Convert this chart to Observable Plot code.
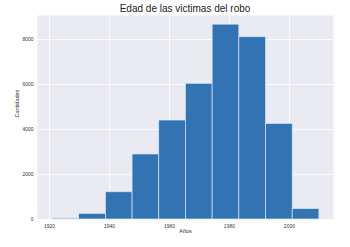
<!DOCTYPE html>
<html><head><meta charset="utf-8">
<script src="https://cdn.jsdelivr.net/npm/d3@7"></script>
<script src="https://cdn.jsdelivr.net/npm/@observablehq/plot@0.6"></script>
<style>
body{margin:0;background:#fff;font-family:"Liberation Sans",Arial,sans-serif;}
#title{height:15px;width:350px;font-size:10px;line-height:17px;text-align:center;color:#222;padding-left:20px;box-sizing:border-box;}
</style></head><body>
<div id="title">Edad de las victimas del robo</div>
<div id="chart"></div>
<script>
const binEdges = [1921, 1929.9, 1938.8, 1947.7, 1956.6, 1965.5, 1974.4, 1983.3, 1992.2, 2001.1, 2010];
const counts = [40, 250, 1210, 2890, 4400, 6030, 8660, 8100, 4250, 460];
const xTicks = [1920, 1940, 1960, 1980, 2000];
const yTicks = [0, 2000, 4000, 6000, 8000];

const bins = counts.map((c, i) => ({x1: binEdges[i], x2: binEdges[i + 1], y: c}));

const chart = Plot.plot({
  width: 350,
  height: 232,
  marginTop: 0,
  marginLeft: 37,
  marginRight: 17,
  marginBottom: 28,
  style: {fontFamily: "Liberation Sans, Arial, sans-serif", fontSize: "5px", color: "#333", background: "#fff"},
  x: {domain: [1916, 2014.7], ticks: xTicks, tickFormat: d => String(d), tickSize: 0, tickPadding: 5, label: null},
  y: {domain: [0, 9067], ticks: yTicks, tickFormat: d => String(d), tickSize: 0, tickPadding: 4, label: null},
  marks: [
    Plot.frame({fill: "#eaeaf2", stroke: null}),
    Plot.gridX(xTicks, {stroke: "#fff", strokeOpacity: 1, strokeWidth: 0.8}),
    Plot.gridY(yTicks, {stroke: "#fff", strokeOpacity: 1, strokeWidth: 0.8}),
    Plot.rectY(bins, {x1: "x1", x2: "x2", y: "y", fill: "#3274b3", stroke: "#d6e4f3", strokeWidth: 0.7}),
    Plot.axisX({ticks: xTicks, tickFormat: d => String(d), tickSize: 0, tickPadding: 5, label: null}),
    Plot.axisY({ticks: yTicks, tickFormat: d => String(d), tickSize: 0, tickPadding: 4, label: null}),
    Plot.text(["Años"], {frameAnchor: "bottom", dy: 13, fontSize: 5.5, fill: "#333"}),
    Plot.text(["Cantidades"], {frameAnchor: "left", dx: -20, rotate: -90, fontSize: 5.5, fill: "#333"})
  ]
});
document.getElementById("chart").appendChild(chart);
</script>
</body></html>
